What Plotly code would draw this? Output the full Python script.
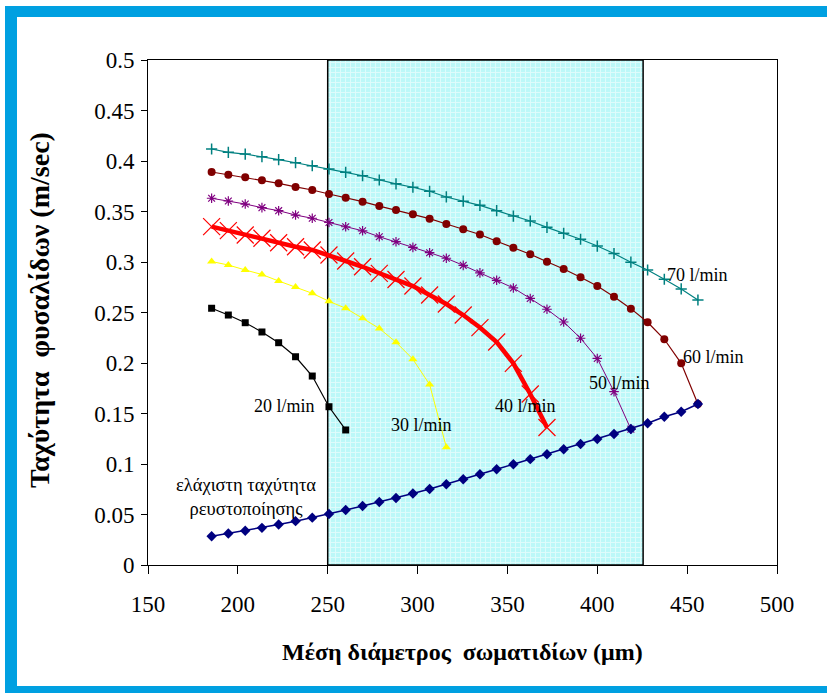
import plotly.graph_objects as go

# ---------------- data ----------------
diameter_um = [185.4, 194.7, 204.1, 213.4, 222.7, 232.1, 241.4, 250.7, 260.0, 269.4,
               278.7, 288.0, 297.4, 306.7, 316.0, 325.4, 334.7, 344.0, 353.3, 362.7,
               372.0, 381.3, 390.7, 400.0, 409.3, 418.7, 428.0, 437.3, 446.7, 456.0]

v_20 = [0.2542, 0.2475, 0.2399, 0.2307, 0.2201, 0.2062, 0.1871, 0.1567, 0.1337]

v_30 = [0.3005, 0.2970, 0.2921, 0.2876, 0.2812, 0.2752, 0.2690, 0.2611, 0.2542, 0.2443,
        0.2342, 0.2206, 0.2037, 0.1787, 0.1166]

v_40 = [0.3350, 0.3310, 0.3267, 0.3235, 0.3191, 0.3151, 0.3119, 0.3069, 0.3010, 0.2953,
        0.2888, 0.2827, 0.2762, 0.2673, 0.2584, 0.2475, 0.2351, 0.2208, 0.1997, 0.1693,
        0.1361]

v_50 = [0.3631, 0.3604, 0.3574, 0.3538, 0.3508, 0.3465, 0.3433, 0.3391, 0.3349, 0.3309,
        0.3250, 0.3201, 0.3145, 0.3092, 0.3037, 0.2967, 0.2892, 0.2819, 0.2743, 0.2639,
        0.2532, 0.2406, 0.2245, 0.2045, 0.1716, 0.1345]

v_60 = [0.3891, 0.3864, 0.3839, 0.3809, 0.3779, 0.3743, 0.3713, 0.3673, 0.3637, 0.3597,
        0.3554, 0.3515, 0.3472, 0.3429, 0.3376, 0.3324, 0.3272, 0.3205, 0.3142, 0.3077,
        0.3003, 0.2931, 0.2849, 0.2762, 0.2656, 0.2538, 0.2403, 0.2235, 0.1997, 0.1594]

v_70 = [0.4119, 0.4086, 0.4069, 0.4043, 0.4013, 0.3983, 0.3953, 0.3921, 0.3888, 0.3854,
        0.3812, 0.3774, 0.3740, 0.3700, 0.3644, 0.3602, 0.3561, 0.3508, 0.3455, 0.3406,
        0.3343, 0.3284, 0.3225, 0.3158, 0.3084, 0.2998, 0.2921, 0.2829, 0.2733, 0.2624]

v_min_fluid = [0.0284, 0.0312, 0.0339, 0.0368, 0.0401, 0.0434, 0.0469, 0.0505, 0.0545, 0.0584,
               0.0624, 0.0663, 0.0708, 0.0752, 0.0799, 0.0849, 0.0898, 0.0948, 0.0997, 0.1048,
               0.1096, 0.1146, 0.1198, 0.1248, 0.1297, 0.1347, 0.1403, 0.1468, 0.1518, 0.1594]

region_x = [250, 425.5]
region_y = [0, 0.5]

label_texts = ["20 l/min", "30 l/min", "40 l/min", "50 l/min", "60 l/min", "70 l/min"]
label_x = [225.7, 302.3, 360.3, 412.1, 464.4, 455.8]
label_y = [0.157, 0.139, 0.157, 0.180, 0.206, 0.287]

min_label_text = "ελάχιστη ταχύτητα<br>ρευστοποίησης"
min_label_x = 204.5
min_label_y = 0.067

x_title = "Μέση διάμετρος\u00a0\u00a0σωματιδίων (μm)"
y_title = "Ταχύτητα\u00a0\u00a0φυσαλίδων (m/sec)"

# ---------------- layout geometry (pixels) ----------------
W, H = 827, 693
L, R, T, B = 148, 777, 60, 565
FONT = "Liberation Serif, Times New Roman, serif"


def fx(p):
    return (p - L) / (R - L)


def fy(p):
    return (B - p) / (B - T)


fig = go.Figure()

# shaded region
fig.add_trace(go.Scatter(
    x=[region_x[0], region_x[1], region_x[1], region_x[0], region_x[0]],
    y=[region_y[0], region_y[0], region_y[1], region_y[1], region_y[0]],
    mode="lines", fill="toself",
    fillcolor="#c8fbfb",
    fillpattern=dict(shape="+", bgcolor="#bcf8f8", fgcolor="#ffffff", size=5, solidity=0.35),
    line=dict(color="black", width=1.5),
    hoverinfo="skip", showlegend=False,
))

series = [
    (v_20, "#000000", 1.2, dict(symbol="square", size=7, color="#000000")),
    (v_30, "#ffff00", 1.0, dict(symbol="triangle-up", size=8, color="#ffff00")),
    (v_40, "#ff0000", 4.5, dict(symbol="x-thin-open", size=17, color="#ff0000", line=dict(width=1.2, color="#ff0000"))),
    (v_50, "#800080", 1.0, dict(symbol="asterisk-open", size=8, color="#800080", line=dict(width=1.2, color="#800080"))),
    (v_60, "#800000", 1.2, dict(symbol="circle", size=8, color="#800000")),
    (v_70, "#008080", 1.2, dict(symbol="cross-thin-open", size=8, color="#008080", line=dict(width=1.5, color="#008080"))),
    (v_min_fluid, "#000080", 1.5, dict(symbol="diamond", size=8, color="#000080")),
]

for vals, col, lw, mk in series:
    fig.add_trace(go.Scatter(
        x=diameter_um[:len(vals)], y=vals, mode="lines+markers",
        line=dict(color=col, width=lw), marker=mk,
        showlegend=False, cliponaxis=False,
    ))

annotations = []
for t, x, y in zip(label_texts, label_x, label_y):
    annotations.append(dict(x=x, y=y, xref="x", yref="y", text=t, showarrow=False,
                            xanchor="center", yanchor="middle",
                            font=dict(family=FONT, size=18, color="black")))
annotations.append(dict(x=min_label_x, y=min_label_y, xref="x", yref="y", text=min_label_text,
                        showarrow=False, align="center", xanchor="center", yanchor="middle",
                        font=dict(family=FONT, size=18.5, color="black")))
annotations.append(dict(x=fx(462), y=fy(652), xref="paper", yref="paper", text="<b>" + x_title + "</b>",
                        showarrow=False, xanchor="center", yanchor="middle",
                        font=dict(family=FONT, size=24, color="black")))
annotations.append(dict(x=fx(39), y=fy(310), xref="paper", yref="paper", text="<b>" + y_title + "</b>",
                        showarrow=False, textangle=-90, xanchor="center", yanchor="middle",
                        font=dict(family=FONT, size=28, color="black")))

blue = "#00a0e1"
shapes = [
    dict(type="rect", xref="paper", yref="paper", x0=fx(5), x1=fx(W + 2), y0=fy(6), y1=fy(17),
         fillcolor=blue, line=dict(width=0), layer="above"),
    dict(type="rect", xref="paper", yref="paper", x0=fx(5), x1=fx(17), y0=fy(6), y1=fy(H + 2),
         fillcolor=blue, line=dict(width=0), layer="above"),
    dict(type="rect", xref="paper", yref="paper", x0=fx(5), x1=fx(W + 2), y0=fy(686), y1=fy(H + 2),
         fillcolor=blue, line=dict(width=0), layer="above"),
]

axis_common = dict(showgrid=False, zeroline=False, showline=True, linecolor="black", linewidth=1,
                   mirror=True, ticks="outside", tickcolor="black",
                   tickfont=dict(family=FONT, size=23, color="black"))

fig.update_layout(
    width=W, height=H,
    margin=dict(l=L, r=W - R, t=T, b=H - B),
    paper_bgcolor="white", plot_bgcolor="white",
    xaxis=dict(range=[150, 500], dtick=50, tick0=150, ticklen=8, ticklabelstandoff=10, **axis_common),
    yaxis=dict(range=[0, 0.5], dtick=0.05, tick0=0, ticklen=6, ticklabelstandoff=2, **axis_common),
    annotations=annotations, shapes=shapes, showlegend=False,
)

fig.write_html("out.html")
